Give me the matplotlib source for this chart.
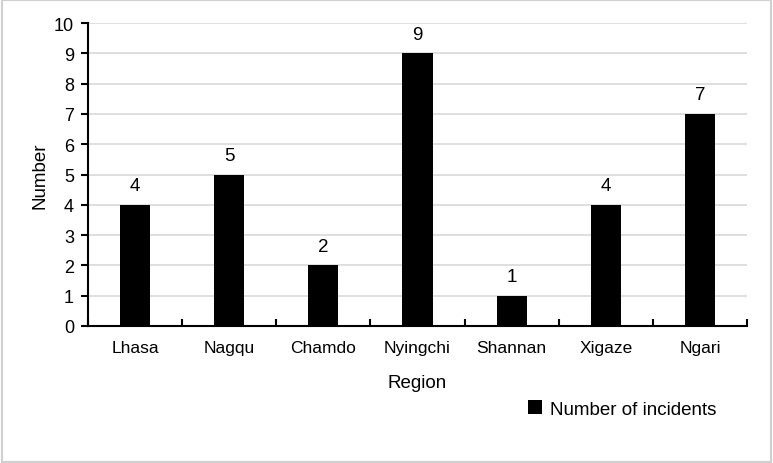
import numpy as np
import matplotlib.pyplot as plt
from matplotlib.patches import Rectangle

plt.rcParams['font.family'] = ['Liberation Sans', 'DejaVu Sans']

regions = ["Lhasa", "Nagqu", "Chamdo", "Nyingchi", "Shannan", "Xigaze", "Ngari"]
incidents = [4, 5, 2, 9, 1, 4, 7]

fig = plt.figure(figsize=(7.73, 4.64), dpi=100)
ax = fig.add_axes([0.1138, 0.2953, 0.8526, 0.6527])

x = np.arange(len(regions))
ax.bar(x, incidents, width=0.32, color="black", label="Number of incidents", zorder=3)

for xi, v in zip(x, incidents):
    ax.text(xi, v + 0.35, str(v), ha="center", va="bottom", fontsize=13.5)

ax.set_xlim(-0.5, len(regions) - 0.5)
ax.set_ylim(0, 10)
ax.set_yticks(range(0, 11))
ax.yaxis.grid(True, color="#d9d9d9", linewidth=1.2, zorder=0)
ax.set_axisbelow(True)

ax.set_xticks(x)
ax.set_xticklabels(regions, fontsize=12.5)
ax.set_xticks(np.arange(-0.5, len(regions)), minor=True)
ax.tick_params(axis="x", which="major", length=0, pad=10)
ax.tick_params(axis="x", which="minor", direction="in", length=5, width=1.5)
ax.tick_params(axis="y", direction="out", length=5, width=1.5, labelsize=13, pad=5)

for s in ["top", "right"]:
    ax.spines[s].set_visible(False)
for s in ["left", "bottom"]:
    ax.spines[s].set_linewidth(1.5)

ax.set_xlabel("Region", fontsize=13.5, labelpad=14)
ax.set_ylabel("Number", fontsize=13.5, labelpad=4)

fig.legend(loc="center", bbox_to_anchor=(622 / 773, 1 - 410 / 464), frameon=False,
           fontsize=13.5, handlelength=0.75, handleheight=0.75, handletextpad=0.4)

fig.patches.append(Rectangle((0.002, 0.003), 0.996, 0.994, transform=fig.transFigure,
                             fill=False, edgecolor="#d0d0d0", linewidth=1.5))

fig.savefig("out.png", dpi=100)
